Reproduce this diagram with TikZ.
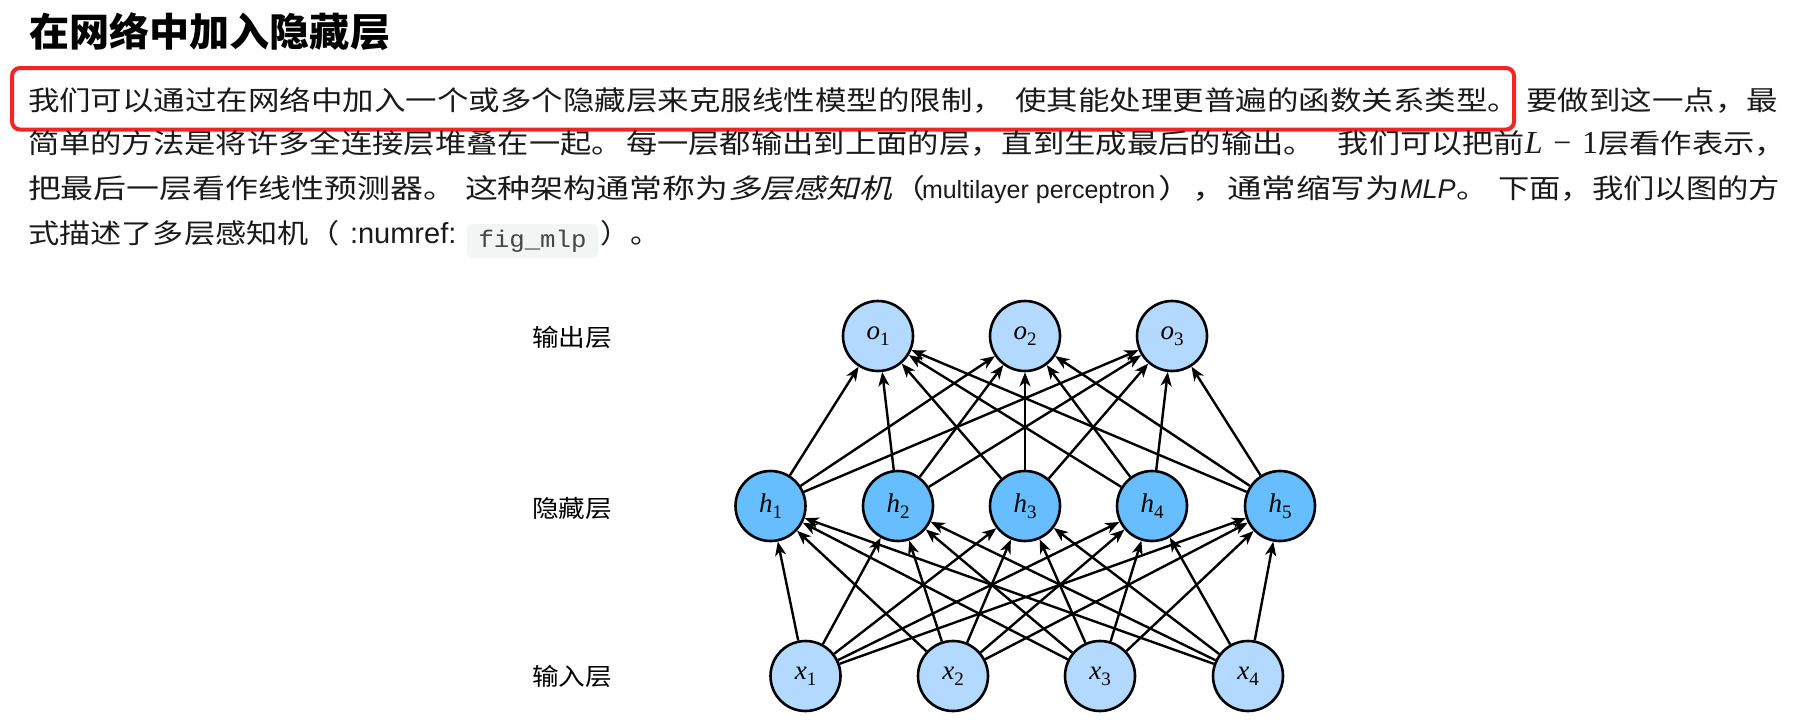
\RequirePackage{fix-cm}
\documentclass[tikz,border=0pt]{standalone}
\usepackage{fontspec}
\usepackage{graphicx}
\usetikzlibrary{arrows.meta}
\newfontfamily\cjk{Noto Sans CJK SC}
\newfontfamily\cjkit{Noto Sans CJK SC}[FakeSlant=0.2]
\newfontfamily\lat{Liberation Sans}
\newfontfamily\mono{Liberation Mono}
\newfontfamily\serifit{Liberation Serif Italic}
\newfontfamily\serifrm{Liberation Serif}
\definecolor{txt}{RGB}{26,26,26}
\definecolor{boxred}{RGB}{245,35,35}
\definecolor{lightnode}{RGB}{179,217,255}
\definecolor{darknode}{RGB}{102,190,255}
\definecolor{codebg}{RGB}{243,244,244}
\definecolor{codetxt}{RGB}{70,70,70}
% set text to a given width (pt), keeping its height
\newcommand{\W}[2]{\resizebox{#1pt}{\height}{#2}}
\newcommand{\nlab}[2]{{\fontsize{27}{30}\selectfont\serifit #1}\raisebox{-6pt}{\fontsize{19}{22}\selectfont\serifrm #2}}
\tikzset{
  seg/.style={anchor=base west, inner sep=0pt, outer sep=0pt, text=txt,
    font=\fontsize{27}{30}\selectfont\cjk},
  segend/.style={seg, anchor=base east},
  latseg/.style={seg, font=\fontsize{25}{30}\selectfont\lat},
  layerlabel/.style={inner sep=0pt, text=black, font=\fontsize{24}{28}\selectfont\cjk},
  neuron/.style={circle, draw=black, line width=2.6pt, minimum size=70pt, inner sep=0pt},
  inout/.style={neuron, fill=lightnode},
  hidden/.style={neuron, fill=darknode},
  arr/.style={line width=2.4pt, -{Stealth[length=14pt,width=11pt,inset=4pt]}}
}
\begin{document}
\begin{tikzpicture}[x=1pt,y=-1pt]
\useasboundingbox (0,0) rectangle (1801,720);
\fill[white] (0,0) rectangle (1801,720);
% title
\node[anchor=base west, inner sep=0pt, font=\fontsize{39}{42}\selectfont\cjk\bfseries] (title) at (29,46) {\W{361}{在网络中加入隐藏层}};
% red frame
\draw[boxred, line width=4pt, rounded corners=8pt] (12,68) rectangle (1514,129.5);
% line 1
\node[seg] (l1a) at (28,110) {\W{976}{我们可以通过在网络中加入一个或多个隐藏层来克服线性模型的限制，}};
\node[seg] (l1b) at (1015,110) {\W{504}{使其能处理更普遍的函数关系类型。}};
\node[segend] (l1c) at (1778,110) {\W{252}{要做到这一点，最}};
% line 2
\node[seg] (l2a) at (28,153) {\W{595}{简单的方法是将许多全连接层堆叠在一起。}};
\node[seg] (l2b) at (626,153) {\W{689}{每一层都输出到上面的层，直到生成最后的输出。}};
\node[segend] (l2c) at (1786,153) {\W{187}{我们可以把前}{\fontsize{32}{34}\selectfont\serifit L\,\,\serifrm −\,\,1}\W{188}{层看作表示，}};
% line 3
\node[seg] (l3a) at (28,198) {\W{428}{把最后一层看作线性预测器。}};
\node[seg] (l3b) at (465,198) {\W{263}{这种架构通常称为}\W{164}{\cjkit 多层感知机}\W{33}{（}};
\node[latseg] (l3c) at (922,198) {multilayer perceptron};
\node[seg] (l3d) at (1158,198) {\W{242}{），通常缩写为}};
\node[latseg, font=\fontsize{27}{30}\selectfont\lat\itshape] (l3e) at (1400,198) {MLP};
\node[seg] (l3f) at (1456,198) {\W{32}{。}};
\node[segend] (l3g) at (1780,198) {\W{282}{下面，我们以图的方}};
% line 4
\node[seg] (l4a) at (28,243) {\W{312}{式描述了多层感知机（}};
\node[seg, font=\fontsize{29}{32}\selectfont\lat] (l4b) at (350,243) {:numref:};
\fill[codebg, rounded corners=5pt] (467,224) rectangle (598,258);
\node[inner sep=0pt, text=codetxt, font=\fontsize{24}{28}\selectfont\mono] (code) at (532.5,241) {\W{108}{fig\_mlp}};
\node[seg] (l4c) at (600,243) {\W{60}{）。}};
% layer labels
\node[layerlabel] (lo) at (572,337) {\W{80}{输出层}};
\node[layerlabel] (lh) at (572,508) {\W{80}{隐藏层}};
\node[layerlabel] (li) at (572,676) {\W{80}{输入层}};
% neurons
\node[inout] (o1) at (878,336) {\nlab{o}{1}};
\node[inout] (o2) at (1025,336) {\nlab{o}{2}};
\node[inout] (o3) at (1172,336) {\nlab{o}{3}};
\node[hidden] (h1) at (770.5,506) {\nlab{h}{1}};
\node[hidden] (h2) at (898,506) {\nlab{h}{2}};
\node[hidden] (h3) at (1025,506) {\nlab{h}{3}};
\node[hidden] (h4) at (1152,506) {\nlab{h}{4}};
\node[hidden] (h5) at (1280,506) {\nlab{h}{5}};
\node[inout] (x1) at (805.5,676) {\nlab{x}{1}};
\node[inout] (x2) at (953,676) {\nlab{x}{2}};
\node[inout] (x3) at (1100,676) {\nlab{x}{3}};
\node[inout] (x4) at (1248,676) {\nlab{x}{4}};
% connectors
\foreach \i in {1,...,4}{
  \foreach \j in {1,...,5}{
    \draw[arr] (x\i) -- (h\j);
  }
}
\foreach \j in {1,...,5}{
  \foreach \k in {1,...,3}{
    \draw[arr] (h\j) -- (o\k);
  }
}
\end{tikzpicture}
\end{document}
